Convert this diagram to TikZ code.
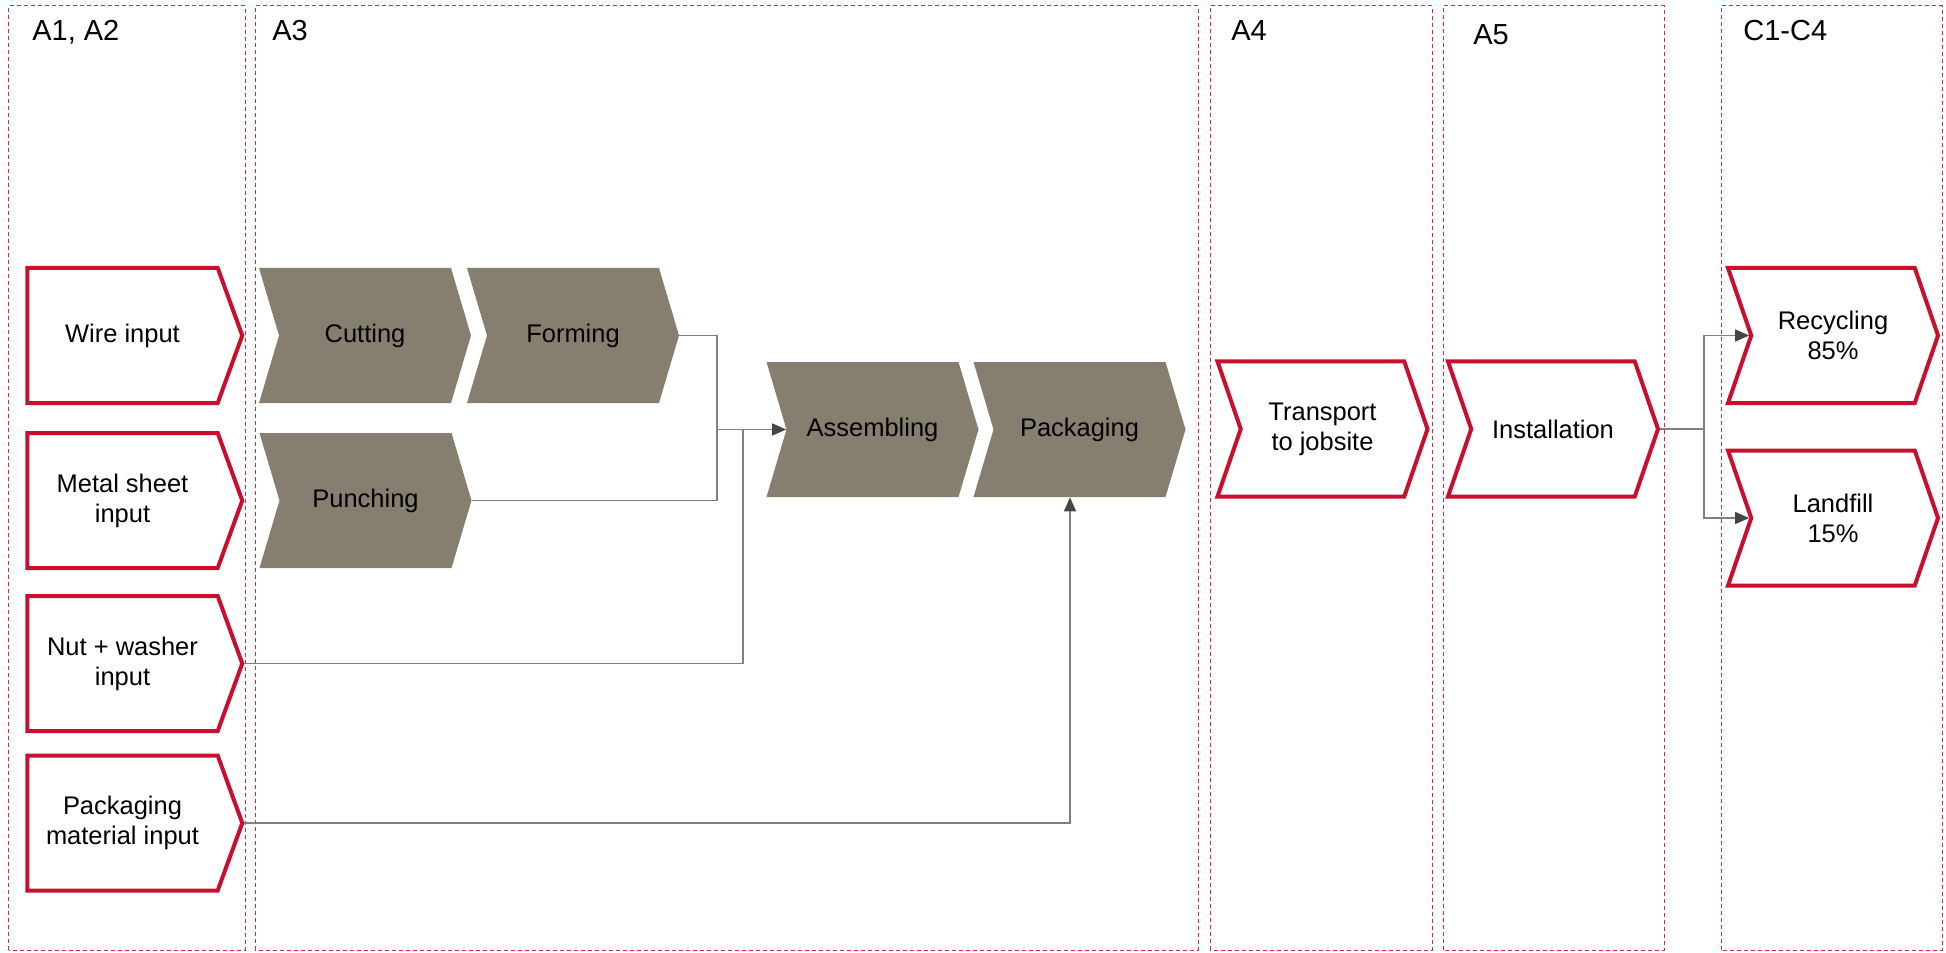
\documentclass[tikz,border=0pt]{standalone}
\usepackage{fontspec}
\setmainfont{Liberation Sans}
\usetikzlibrary{shapes.symbols,arrows.meta}
\definecolor{stagegray}{RGB}{134,126,110}
\definecolor{boxred}{RGB}{200,16,46}
\definecolor{zonered}{RGB}{205,45,75}
\definecolor{wiregray}{RGB}{128,128,128}
\definecolor{tipgray}{RGB}{70,70,70}
\newcommand{\bodyfont}{\fontsize{14.5}{17}\selectfont}
\newcommand{\headfont}{\fontsize{16.5}{19}\selectfont}
\begin{document}
\begin{tikzpicture}[
    zone/.style={draw=zonered, line width=0.02cm, dash pattern=on 0.08cm off 0.06cm},
    zonetitle/.style={anchor=base west, inner sep=0, font=\headfont},
    stage/.style={shape=signal, signal from=west, signal to=east, signal pointer angle=147, fill=stagegray, inner sep=0, minimum width=4.24cm, minimum height=2.7cm, align=center, font=\bodyfont},
    flow/.style={shape=signal, signal from=west, signal to=east, signal pointer angle=142, draw=boxred, line width=0.08cm, fill=white, inner sep=0, minimum width=4.2cm, minimum height=2.7cm, align=center, font=\bodyfont},
    source/.style={flow, signal from=nowhere, signal pointer angle=140, minimum width=4.3cm},
    wire/.style={draw=wiregray, line width=0.03cm},
    feed/.style={wire, -{Triangle[length=0.28cm, width=0.24cm, color=tipgray]}}
  ]
  \useasboundingbox (0,0) rectangle (38.92,19.04);
  % Stage zones:
  \draw[zone] (0.18, 0.04) rectangle (4.90, 18.92);
  \draw[zone] (5.10, 0.04) rectangle (23.96, 18.92);
  \draw[zone] (24.20, 0.04) rectangle (28.64, 18.92);
  \draw[zone] (28.86, 0.04) rectangle (33.28, 18.92);
  \draw[zone] (34.42, 0.04) rectangle (38.84, 18.92);
  \node[zonetitle] (tA12) at (0.64, 18.22) {A1, A2};
  \node[zonetitle] (tA3) at (5.44, 18.22) {A3};
  \node[zonetitle] (tA4) at (24.62, 18.22) {A4};
  \node[zonetitle] (tA5) at (29.46, 18.14) {A5};
  \node[zonetitle] (tC) at (34.86, 18.22) {C1-C4};
  % Inputs:
  \node[source] (wire) at (2.450, 12.330) {Wire input};
  \node[source] (sheet) at (2.450, 9.030) {Metal sheet\\input};
  \node[source] (nut) at (2.450, 5.770) {Nut + washer\\input};
  \node[source] (packmat) at (2.450, 2.580) {Packaging\\material input};
  % Manufacturing:
  \node[stage] (cutting) at (7.300, 12.330) {Cutting};
  \node[stage] (forming) at (11.460, 12.330) {Forming};
  \node[stage] (punching) at (7.310, 9.030) {Punching};
  \node[stage] (assembling) at (17.450, 10.450) {Assembling};
  \node[stage] (packaging) at (21.590, 10.450) {Packaging};
  % Transport, installation and end of life:
  \node[flow] (transport) at (26.450, 10.460) {Transport\\to jobsite};
  \node[flow] (install) at (31.060, 10.460) {Installation};
  \node[flow] (recycling) at (36.660, 12.330) {Recycling\\85\%};
  \node[flow] (landfill) at (36.660, 8.680) {Landfill\\15\%};
  % Wires:
  \coordinate (join) at (14.340, 10.450);
  \coordinate (nutjoin) at (14.860, 10.450);
  \coordinate (split) at (34.080, 10.460);
  \draw[wire] (forming.east) -| (join);
  \draw[wire] (punching.east) -| (join);
  \draw[wire] (nut.east) -| (nutjoin);
  \draw[feed] (join) -- (assembling.west);
  \draw[feed] (packmat.east) -| ([xshift=-0.19cm]packaging.south);
  \draw[wire] (install.east) -- (split);
  \draw[feed] (split) |- (recycling.west);
  \draw[feed] (split) |- (landfill.west);
\end{tikzpicture}
\end{document}
